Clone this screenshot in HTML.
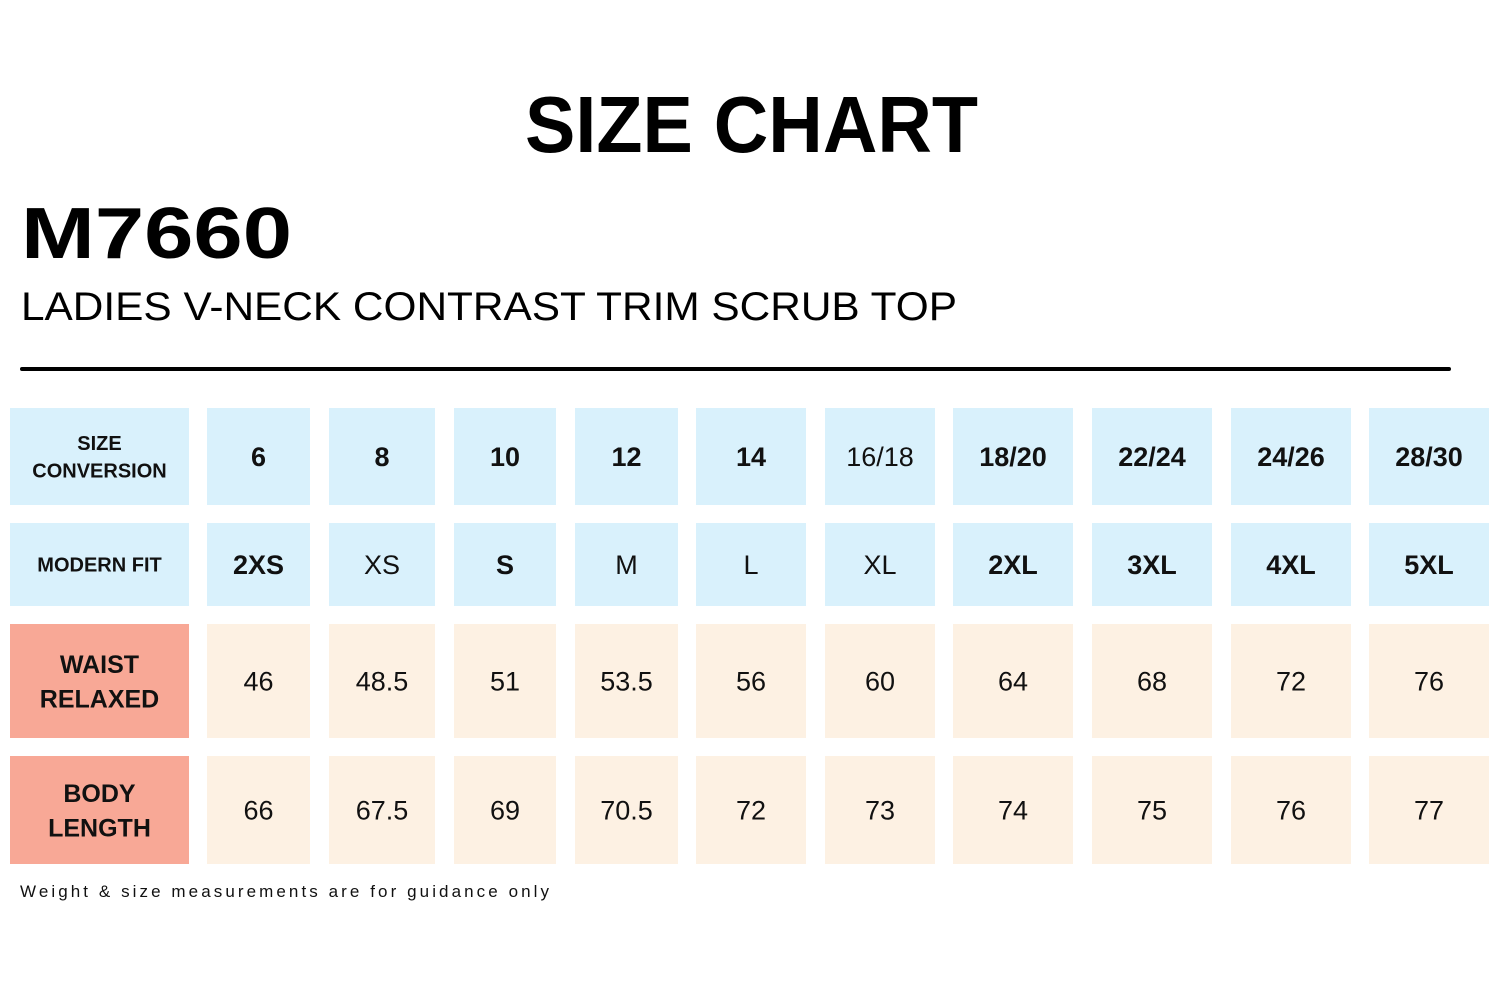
<!DOCTYPE html>
<html><head><meta charset="utf-8">
<style>
html,body{margin:0;padding:0;background:#fff;}
svg{display:block;}
</style></head>
<body>
<svg id="chart" width="1500" height="1000" viewBox="0 0 1500 1000" xmlns="http://www.w3.org/2000/svg">
  <rect x="0" y="0" width="1500" height="1000" fill="#ffffff"/>
  <text x="525" y="152" font-family="Liberation Sans, sans-serif" font-weight="bold" font-size="80" textLength="453" lengthAdjust="spacingAndGlyphs" fill="#000">SIZE CHART</text>
  <text x="21" y="258" font-family="Liberation Sans, sans-serif" font-weight="bold" font-size="72" textLength="271" lengthAdjust="spacingAndGlyphs" fill="#000">M7660</text>
  <text x="21" y="320" font-family="Liberation Sans, sans-serif" font-size="40" textLength="936" lengthAdjust="spacingAndGlyphs" fill="#000">LADIES V-NECK CONTRAST TRIM SCRUB TOP</text>
  <rect x="20" y="367" width="1431" height="4" rx="2" fill="#000"/>
  <g id="table"></g>
  <text x="20" y="897" font-family="Liberation Sans, sans-serif" font-size="17" textLength="529" lengthAdjust="spacing" fill="#111">Weight &amp; size measurements are for guidance only</text>
</svg>
<script>
const sizeConversion = ["6","8","10","12","14","16/18","18/20","22/24","24/26","28/30"];
const sizeConversionBold = [1,1,1,1,1,0,1,1,1,1];
const modernFit = ["2XS","XS","S","M","L","XL","2XL","3XL","4XL","5XL"];
const modernFitBold = [1,0,1,0,0,0,1,1,1,1];
const waistRelaxed = ["46","48.5","51","53.5","56","60","64","68","72","76"];
const bodyLength = ["66","67.5","69","70.5","72","73","74","75","76","77"];

const NS = "http://www.w3.org/2000/svg";
const g = document.getElementById("table");
const colX = [[207,310],[329,435],[454,556],[575,678],[696,806],[825,935],[953,1073],[1092,1212],[1231,1351],[1369,1489]];
const rowY = [[408,505],[523,606],[624,738],[756,864]];
const rowDefs = [
  {name:"size-conversion", label:["SIZE","CONVERSION"], labelSize:20, labelFill:"#d9f1fc", fill:"#d9f1fc", vals:sizeConversion, bold:sizeConversionBold, size:27},
  {name:"modern-fit", label:["MODERN FIT"], labelSize:20, labelFill:"#d9f1fc", fill:"#d9f1fc", vals:modernFit, bold:modernFitBold, size:27},
  {name:"waist-relaxed", label:["WAIST","RELAXED"], labelSize:25, labelFill:"#f8a896", fill:"#fdf1e3", vals:waistRelaxed, bold:null, size:27},
  {name:"body-length", label:["BODY","LENGTH"], labelSize:25, labelFill:"#f8a896", fill:"#fdf1e3", vals:bodyLength, bold:null, size:27}
];
function mk(tag, attrs){const e=document.createElementNS(NS,tag);for(const k in attrs)e.setAttribute(k,attrs[k]);return e;}
rowDefs.forEach((r,ri)=>{
  const [y0,y1]=rowY[ri]; const cy=(y0+y1)/2;
  const lr=mk("rect",{x:10,y:y0,width:179,height:y1-y0,fill:r.labelFill});
  
  
  g.appendChild(lr);
  const n=r.label.length; const lh=r.labelSize*1.38;
  r.label.forEach((t,li)=>{
    const ty=cy+(li-(n-1)/2)*lh+r.labelSize*0.36;
    const lt=mk("text",{x:99.5,y:ty,"text-anchor":"middle","font-family":"Liberation Sans, sans-serif","font-weight":"bold","font-size":r.labelSize,fill:"#111"});
    
    
    lt.textContent=t; g.appendChild(lt);
  });
  r.vals.forEach((v,ci)=>{
    const [x0,x1]=colX[ci];
    const c=mk("rect",{x:x0,y:y0,width:x1-x0,height:y1-y0,fill:r.fill});
    
    
    g.appendChild(c);
    const b=r.bold?r.bold[ci]:0;
    const t=mk("text",{x:(x0+x1)/2,y:cy+r.size*0.36,"text-anchor":"middle","font-family":"Liberation Sans, sans-serif","font-weight":b?"bold":"normal","font-size":r.size,fill:"#111"});
    
    
    t.textContent=v; g.appendChild(t);
  });
});
</script>
</body></html>
